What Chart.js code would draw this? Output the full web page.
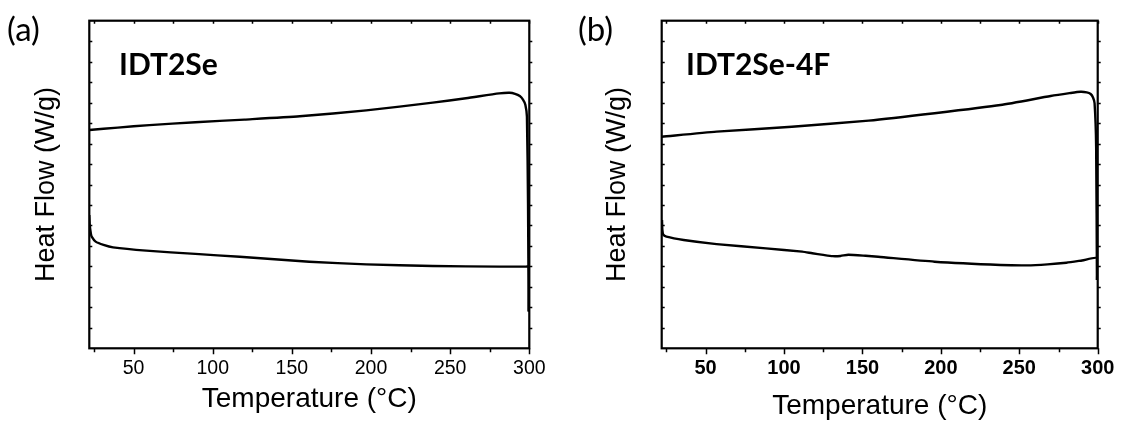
<!DOCTYPE html>
<html>
<head>
<meta charset="utf-8">
<script src="https://cdn.jsdelivr.net/npm/chart.js@4.4.1/dist/chart.umd.min.js"></script>
<style>
  body { margin: 0; background: #fff; }
  #wrap { position: relative; width: 1123px; height: 423px; }
  canvas { position: absolute; top: 0; }
</style>
</head>
<body>
<div id="wrap">
  <canvas id="chartA" width="561" height="423" style="left:0px"></canvas>
  <canvas id="chartB" width="562" height="423" style="left:561px"></canvas>
</div>
<script>
// axis ticks (temperature in degC, heat flow in arbitrary units)
const tempLabels = [50, 100, 150, 200, 250, 300];
const tempTickMarks = [25, 50, 75, 100, 125, 150, 175, 200, 225, 250, 275, 300];
const flowTickMarks = [1, 2, 3, 4, 5, 6, 7, 8, 9, 10, 11, 12, 13, 14, 15];

// (a) IDT2Se - heating run
const tempA_heat = [22, 40, 60, 89, 120, 155, 197, 239, 260, 281, 287.6, 291, 294, 296, 297.5, 298.5, 299.2, 299.6];
const flowA_heat = [10.66, 10.78, 10.90, 11.04, 11.17, 11.33, 11.62, 12.00, 12.21, 12.45, 12.48, 12.43, 12.32, 12.15, 11.90, 11.31, 7.0, 1.8];
// (a) IDT2Se - cooling run
const tempA_cool = [299.7, 299.8, 298, 281, 239, 197, 161, 117, 89, 58, 37, 31, 26, 23.5, 23, 22.3, 22];
const flowA_cool = [1.8, 3.99, 3.99, 3.99, 4.02, 4.10, 4.23, 4.47, 4.61, 4.77, 4.93, 5.05, 5.21, 5.45, 5.6, 6.0, 6.51];

// (b) IDT2Se-4F - heating run
const tempB_heat = [22, 57, 105, 154, 196, 238, 270, 282, 289, 293, 295.5, 297, 298, 299, 299.5];
const flowB_heat = [10.33, 10.58, 10.82, 11.12, 11.48, 11.88, 12.32, 12.46, 12.53, 12.50, 12.42, 12.25, 11.97, 9.85, 3.34];
// (b) IDT2Se-4F - cooling run
const tempB_cool = [299.6, 299.7, 290, 280, 268, 255, 238, 196, 160, 152, 141, 136, 131, 125, 118, 111.6, 88.5, 57, 36, 25, 23, 22.4, 22.2];
const flowB_cool = [3.34, 4.40, 4.29, 4.18, 4.10, 4.05, 4.07, 4.23, 4.47, 4.52, 4.57, 4.51, 4.50, 4.56, 4.64, 4.72, 4.88, 5.09, 5.29, 5.45, 5.55, 5.8, 6.27];

const sans = "'Liberation Sans', Arial, sans-serif";

function toPoints(xs, ys) {
  return xs.map((t, i) => ({ x: t, y: ys[i] }));
}

// box round the plot with the small tick marks
const framePlugin = {
  id: 'frame',
  afterDatasetsDraw(chart) {
    const { ctx, chartArea: a, scales: { x, y } } = chart;
    ctx.save();
    ctx.strokeStyle = '#000';
    ctx.lineWidth = 2.2;
    ctx.strokeRect(a.left, a.top, a.right - a.left, a.bottom - a.top);
    ctx.lineWidth = 1.5;
    ctx.beginPath();
    tempTickMarks.forEach(t => {
      const px = Math.round(x.getPixelForValue(t)) + 0.5;
      const len = t % 50 === 0 ? 6 : 4;
      ctx.moveTo(px, a.bottom);
      ctx.lineTo(px, a.bottom + len);
      ctx.moveTo(px, a.top);
      ctx.lineTo(px, a.top + 3);
    });
    flowTickMarks.forEach(v => {
      const py = Math.round(y.getPixelForValue(v)) + 0.5;
      ctx.moveTo(a.left, py);
      ctx.lineTo(a.left + 3, py);
      ctx.moveTo(a.right, py);
      ctx.lineTo(a.right + 3, py);
    });
    ctx.stroke();
    ctx.restore();
  }
};

// panel letter and sample name
const panelTextPlugin = {
  id: 'panelText',
  afterDraw(chart, args, opts) {
    const ctx = chart.ctx;
    ctx.save();
    ctx.fillStyle = '#000';
    ctx.textBaseline = 'alphabetic';
    ctx.font = '33px Lato';
    ctx.fillText(opts.tag, opts.tagX, 41);
    ctx.font = 'bold 30px Lato';
    ctx.fillText(opts.name, opts.nameX, 75);
    ctx.restore();
  }
};

function makeChart(id, heat, cool, cfg) {
  const ctx = document.getElementById(id).getContext('2d');
  const line = { showLine: true, borderColor: '#000', borderWidth: 2.4, pointRadius: 0, tension: 0.2 };
  return new Chart(ctx, {
    type: 'scatter',
    data: {
      datasets: [
        Object.assign({ data: heat }, line),
        Object.assign({ data: cool }, line)
      ]
    },
    options: {
      responsive: false,
      animation: false,
      devicePixelRatio: 1,
      layout: { padding: { top: 20.7, right: cfg.padRight, left: 0, bottom: 0 } },
      plugins: {
        legend: { display: false },
        tooltip: { enabled: false },
        panelText: { tag: cfg.tag, tagX: cfg.tagX, name: cfg.name, nameX: cfg.nameX }
      },
      scales: {
        x: {
          type: 'linear',
          min: 22,
          max: 300,
          grid: { display: false, drawTicks: false },
          border: { display: false },
          afterBuildTicks(s) { s.ticks = tempLabels.map(v => ({ value: v })); },
          ticks: {
            color: '#000',
            padding: cfg.tickPad,
            maxRotation: 0,
            autoSkip: false,
            font: { family: sans, size: cfg.tickSize, weight: cfg.tickWeight }
          },
          title: {
            display: true,
            text: 'Temperature (°C)',
            color: '#000',
            font: { family: sans, size: 28 },
            padding: { top: 0, bottom: cfg.xTitlePad }
          },
          afterFit(s) { s.height = 74.7; }
        },
        y: {
          min: 0,
          max: 16,
          grid: { display: false, drawTicks: false },
          border: { display: false },
          ticks: { display: false },
          title: {
            display: true,
            text: 'Heat Flow (W/g)',
            color: '#000',
            font: { family: sans, size: 27 },
            padding: { top: cfg.yTitlePad, bottom: 0 }
          },
          afterFit(s) { s.width = cfg.yWidth; }
        }
      }
    },
    plugins: [framePlugin, panelTextPlugin]
  });
}

makeChart('chartA', toPoints(tempA_heat, flowA_heat), toPoints(tempA_cool, flowA_cool), {
  tag: '(a)', tagX: 7, name: 'IDT2Se', nameX: 119,
  padRight: 31.7, yWidth: 89.3, yTitlePad: 30,
  tickPad: 8.8, tickSize: 19.5, tickWeight: 'normal', xTitlePad: 7
});

makeChart('chartB', toPoints(tempB_heat, flowB_heat), toPoints(tempB_cool, flowB_cool), {
  tag: '(b)', tagX: 17, name: 'IDT2Se-4F', nameX: 125,
  padRight: 22, yWidth: 100.7, yTitlePad: 40,
  tickPad: 8.6, tickSize: 20, tickWeight: 'bold', xTitlePad: 0
});
</script>
</body>
</html>
